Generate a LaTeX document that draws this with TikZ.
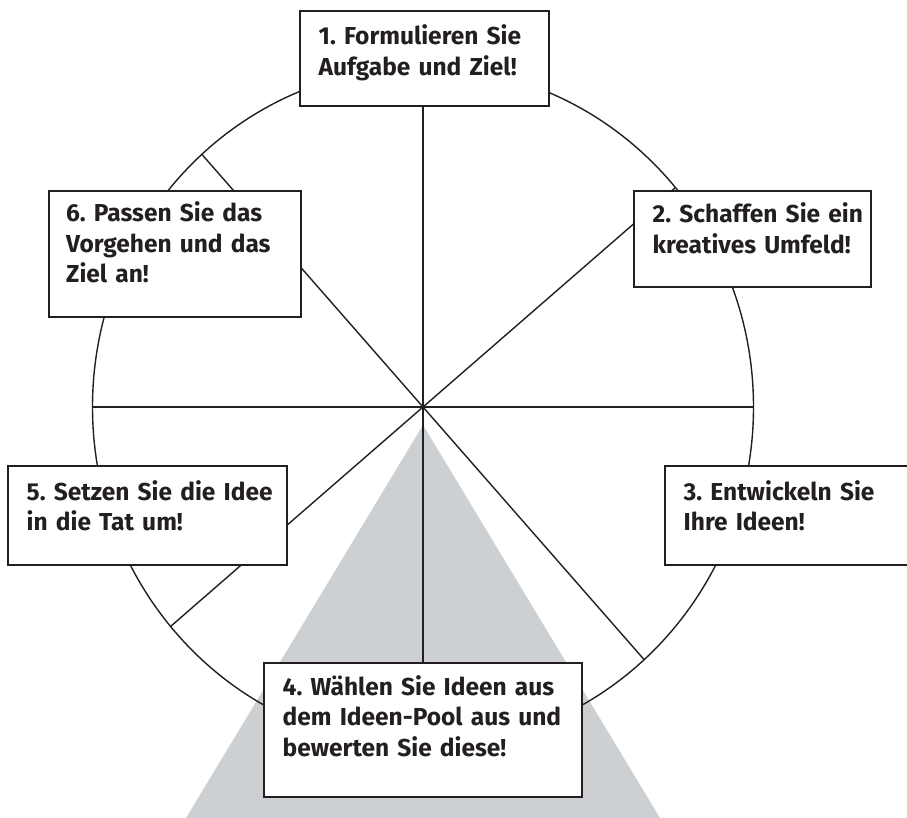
\documentclass[tikz,border=0pt]{standalone}
\usepackage{fontspec}
\setmainfont{Fira Sans}
\frenchspacing
\definecolor{wedge}{RGB}{205,208,211}
\definecolor{ink}{RGB}{35,31,32}

\begin{document}
\begin{tikzpicture}[x=1pt,y=-1pt,
stepbox/.style={draw=ink, line width=1.8pt, fill=white, anchor=north west, inner sep=0pt},
steptext/.style={anchor=base west, inner sep=0pt, text width=320pt, align=left,
    text=ink, font=\fontsize{24.5}{30.5}\selectfont\bfseries},
spoke/.style={draw=ink, line width=1.4pt}]
\useasboundingbox (0,0) rectangle (907,818);
\coordinate (c) at (423,407);
% grey wedge below the hub
\fill[wedge] (c) ++(0,18) -- (186,818) -- (660,818) -- cycle;
% wheel
\draw[spoke] (c) ellipse [x radius=330.5pt, y radius=340pt];
\foreach \t in {0,48,90,139.8,180,228,270,319.8}
  \draw[spoke] (c) -- ++(\t:330.5 and 340);
% the six steps
\node[stepbox, minimum width=249pt, minimum height=95pt] (s1) at (299,10) {};
\node[steptext] (t1) at ([xshift=19.5pt,yshift=-35pt]s1.north west) {1. Formulieren Sie\\Aufgabe und Ziel!};
\node[stepbox, minimum width=237pt, minimum height=96pt] (s2) at (633,190) {};
\node[steptext] (t2) at ([xshift=19.5pt,yshift=-33pt]s2.north west) {2. Schaffen Sie ein\\kreatives Umfeld!};
\node[stepbox, minimum width=250pt, minimum height=99pt] (s3) at (664,465) {};
\node[steptext] (t3) at ([xshift=19.5pt,yshift=-35pt]s3.north west) {3. Entwickeln Sie\\Ihre Ideen!};
\node[stepbox, minimum width=318pt, minimum height=134pt] (s4) at (263,662) {};
\node[steptext] (t4) at ([xshift=19.5pt,yshift=-33pt]s4.north west) {4. Wählen Sie Ideen aus\\dem Ideen-Pool aus und\\bewerten Sie diese!};
\node[stepbox, minimum width=279pt, minimum height=99pt] (s5) at (7,465) {};
\node[steptext] (t5) at ([xshift=19.5pt,yshift=-35pt]s5.north west) {5. Setzen Sie die Idee\\in die Tat um!};
\node[stepbox, minimum width=252pt, minimum height=126pt] (s6) at (48,190) {};
\node[steptext] (t6) at ([xshift=18pt,yshift=-32pt]s6.north west) {6. Passen Sie das\\Vorgehen und das\\Ziel an!};
\end{tikzpicture}
\end{document}
